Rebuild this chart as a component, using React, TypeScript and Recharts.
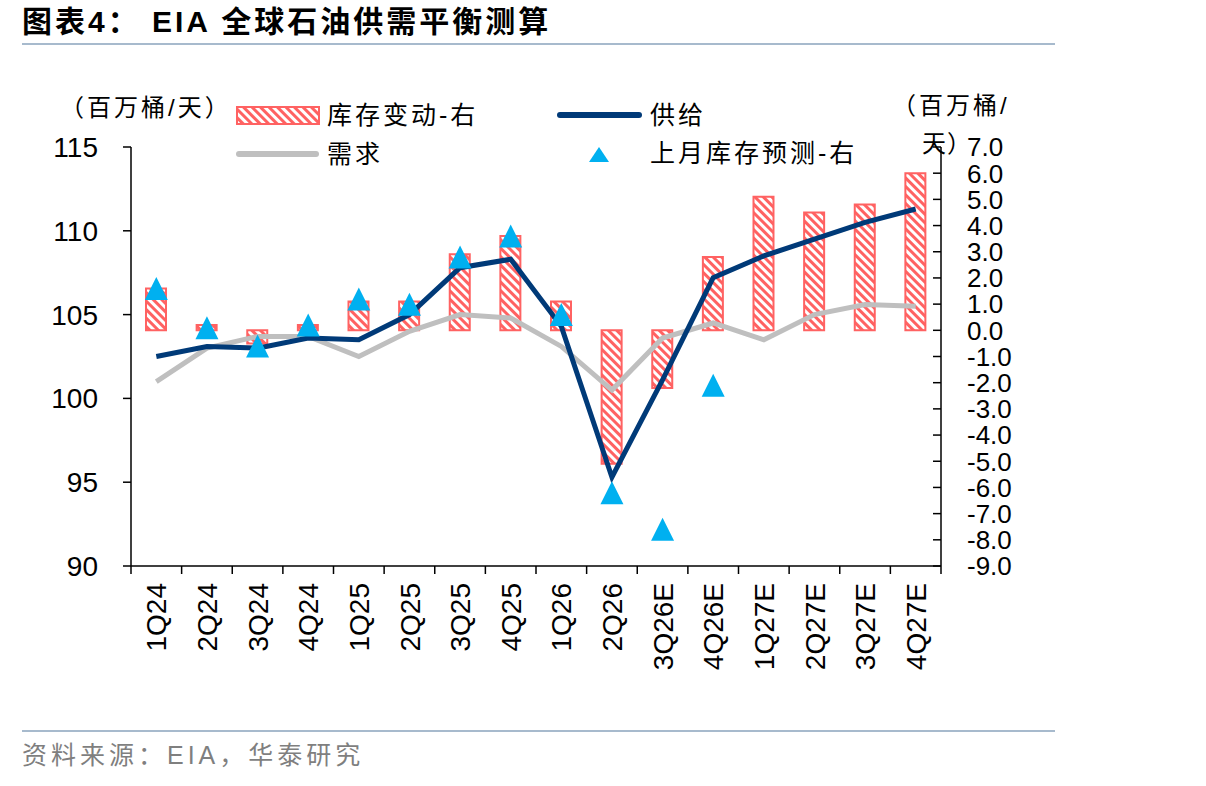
import React from 'react';
import { ComposedChart, Bar, Line, XAxis, YAxis } from 'recharts';

const quarters = ['1Q24', '2Q24', '3Q24', '4Q24', '1Q25', '2Q25', '3Q25', '4Q25', '1Q26', '2Q26', '3Q26E', '4Q26E', '1Q27E', '2Q27E', '3Q27E', '4Q27E'];
// 库存变动 (right axis)
const stockChange = [1.6, 0.2, -0.5, 0.2, 1.1, 1.1, 2.9, 3.6, 1.1, -5.1, -2.2, 2.8, 5.1, 4.5, 4.8, 6.0];
// 供给 / 需求 (left axis)
const supply = [102.5, 103.1, 103.0, 103.6, 103.5, 105.0, 107.8, 108.3, 104.3, 95.3, 101.1, 107.2, 108.5, 109.5, 110.5, 111.3];
const demand = [101.0, 103.0, 103.7, 103.7, 102.5, 104.0, 105.0, 104.8, 103.1, 100.5, 103.6, 104.5, 103.5, 105.0, 105.6, 105.5];
// 上月库存预测 (right axis)
const priorForecast: (number | null)[] = [1.6, 0.1, -0.6, 0.2, 1.2, 1.0, 2.8, 3.6, 0.6, -6.2, -7.6, -2.1, null, null, null, null];

const leftTicks = [90, 95, 100, 105, 110, 115];
const rightTicks = [-9, -8, -7, -6, -5, -4, -3, -2, -1, 0, 1, 2, 3, 4, 5, 6, 7];

const data = quarters.map((q, i) => ({
  q,
  stock: stockChange[i],
  supply: supply[i],
  demand: demand[i],
  prior: priorForecast[i],
}));

const NUM_FONT = '"Liberation Sans", Arial, "Noto Sans CJK SC", sans-serif';
const CJK_FONT = '"Liberation Sans", "Noto Sans CJK SC", sans-serif';
const RED = '#FF6262';
const NAVY = '#003A78';
const GRAY = '#BFBFBF';
const CYAN = '#00B0F0';
const RULE = '#A7BACD';
const BAND = 810 / 16;

function XTick(props: any) {
  const { x, y, payload, index } = props;
  const left = x - BAND / 2;
  const ty = y + 17;
  return (
    <g>
      <line x1={left} x2={left} y1={y} y2={y + 8} stroke="#000" strokeWidth={1.5} />
      {index === quarters.length - 1 && (
        <line x1={x + BAND / 2} x2={x + BAND / 2} y1={y} y2={y + 8} stroke="#000" strokeWidth={1.5} />
      )}
      <text
        x={x}
        y={ty}
        dy="0.36em"
        transform={`rotate(-90 ${x} ${ty})`}
        textAnchor="end"
        fontSize={28}
        fontFamily={NUM_FONT}
        fill="#000"
      >
        {payload.value}
      </text>
    </g>
  );
}

function LeftTick(props: any) {
  const { x, y, payload } = props;
  return (
    <g>
      <line x1={x - 8} x2={x} y1={y} y2={y} stroke="#000" strokeWidth={1.5} />
      <text x={x - 33} y={y} dy="0.36em" textAnchor="end" fontSize={28} fontFamily={NUM_FONT} fill="#000">
        {payload.value}
      </text>
    </g>
  );
}

function RightTick(props: any) {
  const { x, y, payload } = props;
  return (
    <g>
      <line x1={x - 8} x2={x} y1={y} y2={y} stroke="#000" strokeWidth={1.5} />
      <text x={x + 26} y={y} dy="0.36em" textAnchor="start" fontSize={26} fontFamily={NUM_FONT} fill="#000">
        {Number(payload.value).toFixed(1)}
      </text>
    </g>
  );
}

const renderTriangle = (props: any) => {
  const { cx, cy, index } = props;
  if (cx == null || cy == null || Number.isNaN(cy)) return <g key={`t${index}`} />;
  const w = 23;
  const h = 23;
  return (
    <polygon
      key={`t${index}`}
      points={`${cx},${cy - h / 2} ${cx + w / 2},${cy + h / 2} ${cx - w / 2},${cy + h / 2}`}
      fill={CYAN}
    />
  );
};

function HatchDefs() {
  return (
    <svg width={0} height={0} style={{ position: 'absolute' }}>
      <defs>
        <pattern id="hatchRed" width={6} height={6} patternUnits="userSpaceOnUse" patternTransform="rotate(-45)">
          <rect width={6} height={6} fill={RED} />
          <rect width={3} height={6} fill="#fff" />
        </pattern>
      </defs>
    </svg>
  );
}

const label = (left: number, cy: number, text: string, size = 25, spacing = 3, color = '#000') => (
  <div
    style={{
      position: 'absolute',
      left,
      top: cy - 20,
      height: 40,
      lineHeight: '40px',
      fontSize: size,
      letterSpacing: spacing,
      fontFamily: CJK_FONT,
      color,
      whiteSpace: 'nowrap',
    }}
  >
    {text}
  </div>
);

export default function App() {
  return (
    <div style={{ position: 'absolute', left: 0, top: 0, width: 1206, height: 786, background: '#fff', overflow: 'hidden' }}>
      <HatchDefs />
      <div
        style={{
          position: 'absolute',
          left: 22,
          top: 2,
          height: 40,
          lineHeight: '40px',
          fontSize: 30,
          fontWeight: 700,
          letterSpacing: 3,
          fontFamily: CJK_FONT,
          color: '#000',
          whiteSpace: 'nowrap',
        }}
      >
        图表4： EIA 全球石油供需平衡测算
      </div>
      <div style={{ position: 'absolute', left: 22, top: 43, width: 1033, height: 2, background: RULE }} />
      <div style={{ position: 'absolute', left: 22, top: 730, width: 1033, height: 2, background: RULE }} />
      {label(22, 755, '资料来源：EIA，华泰研究', 25, 4, '#7F7F7F')}

      <div style={{ position: 'absolute', left: 0, top: 0 }}>
        <ComposedChart width={1206} height={786} data={data} margin={{ top: 147, right: 205, bottom: 160, left: 71 }}>
          <XAxis
            dataKey="q"
            interval={0}
            height={60}
            tickLine={false}
            tickSize={0}
            tickMargin={0}
            axisLine={{ stroke: '#000', strokeWidth: 1.5 }}
            tick={(p: any) => <XTick {...p} />}
          />
          <YAxis
            yAxisId="left"
            width={60}
            domain={[90, 115]}
            ticks={leftTicks}
            interval={0}
            tickLine={false}
            tickSize={0}
            tickMargin={0}
            axisLine={{ stroke: '#000', strokeWidth: 1.5 }}
            tick={(p: any) => <LeftTick {...p} />}
          />
          <YAxis
            yAxisId="right"
            orientation="right"
            width={60}
            domain={[-9, 7]}
            ticks={rightTicks}
            interval={0}
            tickLine={false}
            tickSize={0}
            tickMargin={0}
            axisLine={{ stroke: '#000', strokeWidth: 1.5 }}
            tick={(p: any) => <RightTick {...p} />}
          />
          <Bar
            yAxisId="right"
            dataKey="stock"
            barSize={20}
            fill="url(#hatchRed)"
            stroke={RED}
            strokeWidth={2}
            isAnimationActive={false}
          />
          <Line
            yAxisId="left"
            dataKey="demand"
            type="linear"
            stroke={GRAY}
            strokeWidth={5}
            dot={false}
            activeDot={false}
            isAnimationActive={false}
          />
          <Line
            yAxisId="left"
            dataKey="supply"
            type="linear"
            stroke={NAVY}
            strokeWidth={5}
            dot={false}
            activeDot={false}
            isAnimationActive={false}
          />
          <Line
            yAxisId="right"
            dataKey="prior"
            type="linear"
            stroke="none"
            strokeWidth={0}
            dot={renderTriangle}
            activeDot={false}
            isAnimationActive={false}
          />
        </ComposedChart>
      </div>

      {/* axis unit labels */}
      {label(60, 108, '（百万桶/天）', 24, 3)}
      {label(892, 106, '（百万桶/', 24, 3)}
      {label(922, 144, '天）', 24, 1)}

      {/* legend */}
      <svg width={84} height={19} style={{ position: 'absolute', left: 236, top: 106 }}>
        <rect x={1} y={1} width={82} height={17} fill="url(#hatchRed)" stroke={RED} strokeWidth={2} />
      </svg>
      {label(327, 115, '库存变动-右')}
      <div style={{ position: 'absolute', left: 236, top: 151, width: 83, height: 6, borderRadius: 3, background: GRAY }} />
      {label(327, 154, '需求')}
      <div style={{ position: 'absolute', left: 557, top: 112, width: 85, height: 6, borderRadius: 3, background: NAVY }} />
      {label(650, 115, '供给')}
      <svg width={20} height={16} style={{ position: 'absolute', left: 589, top: 147 }}>
        <polygon points="10,0 20,15 0,15" fill={CYAN} />
      </svg>
      {label(650, 153, '上月库存预测-右')}
    </div>
  );
}
